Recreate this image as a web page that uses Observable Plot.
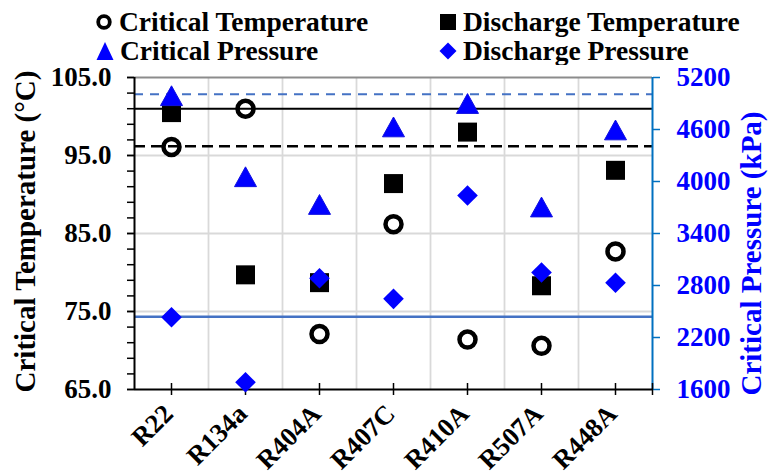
<!DOCTYPE html>
<html><head><meta charset="utf-8">
<script src="https://cdn.jsdelivr.net/npm/d3@7"></script>
<script src="https://cdn.jsdelivr.net/npm/@observablehq/plot@0.6"></script>
<style>
body{margin:0;background:#fff;}
#wrap{width:768px;height:474px;position:relative;overflow:hidden;font-family:"Liberation Serif","Times New Roman",serif;}
#wrap svg{display:block;}
</style></head><body><div id="wrap"></div>
<script>
// ---- data ----
const categories = ["R22","R134a","R404A","R407C","R410A","R507A","R448A"];
const criticalTemperature = [96.1, 101.0, 72.1, 86.2, 71.4, 70.6, 82.7];
const dischargeTemperature = [100.5, 79.7, 78.7, 91.4, 98.0, 78.3, 93.1];
const criticalPressure = [4990, 4055, 3735, 4630, 4900, 3706, 4595];
const dischargePressure = [2434, 1684, 2884, 2646, 3838, 2950, 2831];
const tempTicks = [65, 75, 85, 95, 105];
const tempMinorTicks = [65,67,69,71,73,75,77,79,81,83,85,87,89,91,93,95,97,99,101,103,105];
const pressureTicks = [1600, 2200, 2800, 3400, 4000, 4600, 5200];
const refTempSolid = [101.0];
const refTempDashed = [96.2];
const refPressureDashed = [5007];
const refPressureSolid = [2440];
const seriesNames = ["Critical Temperature","Discharge Temperature","Critical Pressure","Discharge Pressure"];
const leftTitle = "Critical Temperature (°C)";
const rightTitle = "Critical Pressure (kPa)";

// ---- helpers ----
const tMin = 65, tMax = 105, pMin = 1600, pMax = 5200;
const p2t = p => tMin + (p - pMin) * (tMax - tMin) / (pMax - pMin);
const t2p = t => Math.round(pMin + (t - tMin) * (pMax - pMin) / (tMax - tMin));
const FONT = "Liberation Serif, Times New Roman, serif";

const squareSym = {draw(c, size){const r = Math.sqrt(size/Math.PI); c.rect(-r,-r,2*r,2*r);}};
const triSym = {draw(c, size){const r = Math.sqrt(size/Math.PI); c.moveTo(0,-r*0.9); c.lineTo(r,r*0.9); c.lineTo(-r,r*0.9); c.closePath();}};
const diaSym = {draw(c, size){const r = Math.sqrt(size/Math.PI); c.moveTo(0,-r); c.lineTo(r,0); c.lineTo(0,r); c.lineTo(-r,0); c.closePath();}};

const rows = categories.map((c, i) => ({
  cat: c, xi: i + 0.5,
  ct: criticalTemperature[i], dt: dischargeTemperature[i],
  cp: p2t(criticalPressure[i]), dp: p2t(dischargePressure[i])
}));

// ---- legend ----
const wrap = d3.select("#wrap");
const leg = wrap.append("svg").attr("width", 768).attr("height", 65)
  .style("font-family", FONT).style("font-weight", "bold").style("font-size", "27.5px");
const legItems = [
  {name: seriesNames[0], x: 104, y: 22, kind: "ring"},
  {name: seriesNames[1], x: 448, y: 22, kind: "square"},
  {name: seriesNames[2], x: 105, y: 51, kind: "tri"},
  {name: seriesNames[3], x: 448, y: 51, kind: "dia"}
];
legItems.forEach(d => {
  const g = leg.append("g").attr("transform", `translate(${d.x},${d.y})`);
  if (d.kind === "ring") g.append("circle").attr("r", 5.8).attr("fill", "none").attr("stroke", "black").attr("stroke-width", 3.8);
  if (d.kind === "square") g.append("rect").attr("x", -8).attr("y", -8).attr("width", 16).attr("height", 16).attr("fill", "black");
  if (d.kind === "tri") g.append("path").attr("d", "M0,-9L8.5,9L-8.5,9Z").attr("fill", "#0000ff");
  if (d.kind === "dia") g.append("path").attr("d", "M0,-8.5L8.5,0L0,8.5L-8.5,0Z").attr("fill", "#0000ff");
  leg.append("text").attr("x", d.x + 15).attr("y", d.y + 9).attr("fill", "black").text(d.name);
});

// ---- chart ----
const chart = Plot.plot({
  width: 768, height: 409,
  marginTop: 12, marginBottom: 85, marginLeft: 134, marginRight: 116,
  x: {type: "linear", domain: [0, 7]},
  y: {domain: [tMin, tMax]},
  style: {fontFamily: FONT, background: "transparent", overflow: "visible"},
  marks: [
    Plot.gridY([75, 85, 95], {stroke: "#d9d9d9", strokeOpacity: 1, strokeWidth: 1.8}),
    Plot.gridX([1, 2, 3, 4, 5, 6], {stroke: "#d9d9d9", strokeOpacity: 1, strokeWidth: 1.8}),
    Plot.ruleY([tMax], {stroke: "#8c8c8c", strokeWidth: 1.8}),
    Plot.ruleY(refTempSolid, {stroke: "black", strokeWidth: 2}),
    Plot.ruleY(refTempDashed, {stroke: "black", strokeWidth: 2.5, strokeDasharray: "11,6"}),
    Plot.ruleY(refPressureDashed.map(p2t), {stroke: "#4472c4", strokeWidth: 2.2, strokeDasharray: "9,7"}),
    Plot.ruleY(refPressureSolid.map(p2t), {stroke: "#4472c4", strokeWidth: 2.5}),
    // axes lines
    Plot.ruleX([0], {stroke: "black", strokeWidth: 2}),
    Plot.ruleX([7], {stroke: "#0070c0", strokeWidth: 2}),
    Plot.ruleY([tMin], {stroke: "black", strokeWidth: 2.2}),
    // left axis
    Plot.axisY(tempMinorTicks, {anchor: "left", tickSize: 7, strokeWidth: 1.5, stroke: "black", fill: "none", label: null}),
    Plot.axisY(tempTicks, {anchor: "left", tickSize: 7, tickPadding: 16, strokeWidth: 1.5, stroke: "black", fill: "black",
      tickFormat: d3.format(".1f"), fontSize: 27, fontWeight: "bold", label: null}),
    // right axis
    Plot.axisY(pressureTicks.map(p2t), {anchor: "right", tickSize: 7, tickPadding: 17, strokeWidth: 1.5, stroke: "#0070c0", fill: "#0000ff",
      tickFormat: t => String(t2p(t)), fontSize: 27, fontWeight: "bold", label: null}),
    // bottom axis
    Plot.tickX([...rows.map(d => d.xi), 7], {x: d => d, stroke: "black", strokeWidth: 1.5, insetTop: 306, insetBottom: -6}),
    Plot.axisX(rows.map(d => d.xi), {tickSize: 0, tickRotate: -45, tickPadding: 8, dx: -3, dy: 12, fill: "black",
      tickFormat: d => categories[Math.floor(d)], fontSize: 26.5, fontWeight: "bold", label: null}),
    // titles
    Plot.text([leftTitle], {frameAnchor: "left", textAnchor: "middle", rotate: -90, dx: -109, dy: -2, fontSize: 29, fontWeight: "bold", fill: "black"}),
    Plot.text([rightTitle], {frameAnchor: "right", textAnchor: "middle", rotate: -90, dx: 99, dy: 20, fontSize: 29, fontWeight: "bold", fill: "#0000ff"}),
    // series
    Plot.dot(rows, {x: "xi", y: "ct", r: 8, stroke: "black", strokeWidth: 4.5, fill: "none"}),
    Plot.dot(rows, {x: "xi", y: "dt", r: 9.5, symbol: squareSym, fill: "black", stroke: "none"}),
    Plot.dot(rows, {x: "xi", y: "cp", r: 11, symbol: triSym, fill: "#0000ff", stroke: "#1010e0", strokeWidth: 1}),
    Plot.dot(rows, {x: "xi", y: "dp", r: 10.3, symbol: diaSym, fill: "#0000ff", stroke: "none"})
  ]
});
wrap.node().appendChild(chart);
</script>
</body></html>
